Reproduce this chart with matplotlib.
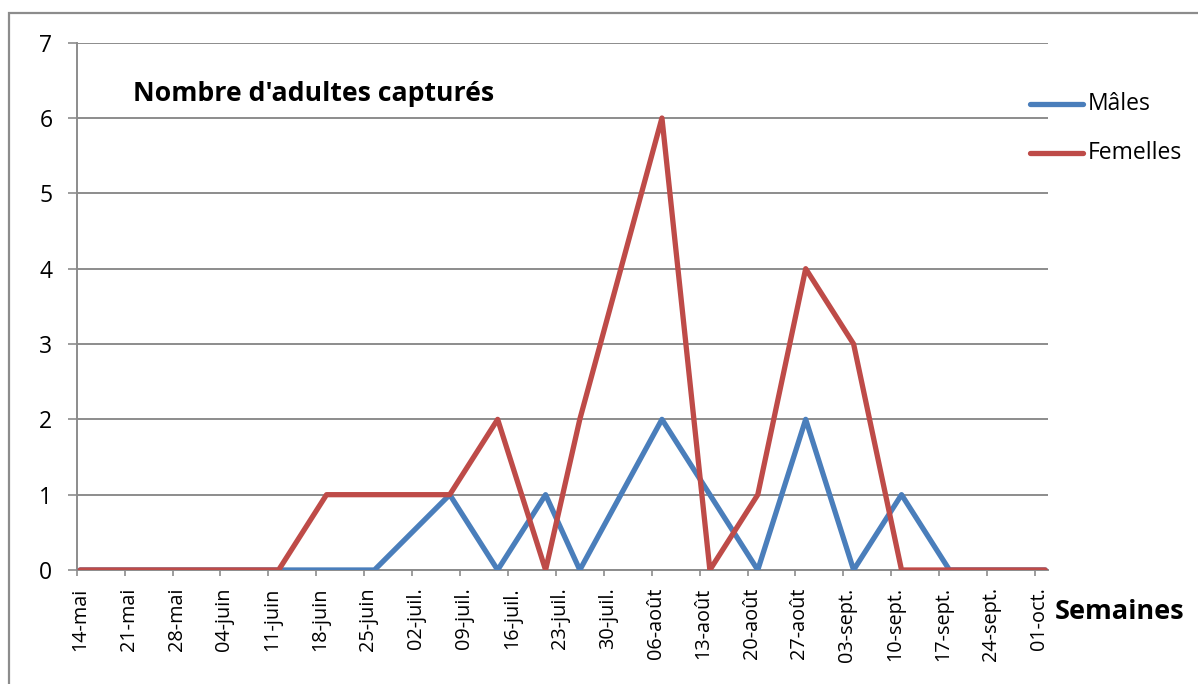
import matplotlib
matplotlib.use("Agg")
import matplotlib.pyplot as plt
import matplotlib.transforms as mtransforms
from matplotlib.lines import Line2D
from matplotlib.patches import Rectangle
import pandas as pd

# ---- data ----
dates = ["2013-05-14 12:00", "2013-05-21 12:00", "2013-05-28 12:00", "2013-06-04 12:00",
         "2013-06-12 12:00", "2013-06-19 12:00", "2013-06-26 12:00", "2013-07-07 12:00",
         "2013-07-14 12:00", "2013-07-21 12:00", "2013-07-26 12:00", "2013-08-07 12:00",
         "2013-08-14 12:00", "2013-08-21 12:00", "2013-08-28 12:00", "2013-09-04 12:00",
         "2013-09-11 12:00", "2013-09-18 12:00", "2013-09-25 12:00", "2013-10-02 12:00"]
males   = [0, 0, 0, 0, 0, 0, 0, 1, 0, 1, 0, 2, 1, 0, 2, 0, 1, 0, 0, 0]
females = [0, 0, 0, 0, 0, 1, 1, 1, 2, 0, 2, 6, 0, 1, 4, 3, 0, 0, 0, 0]
series_names = ["Mâles", "Femelles"]

tick_dates = pd.date_range("2013-05-14", "2013-10-01", freq="7D")
tick_labels = ["14-mai", "21-mai", "28-mai", "04-juin", "11-juin", "18-juin",
               "25-juin", "02-juil.", "09-juil.", "16-juil.", "23-juil.",
               "30-juil.", "06-août", "13-août", "20-août", "27-août",
               "03-sept.", "10-sept.", "17-sept.", "24-sept.", "01-oct."]
y_ticks = [0, 1, 2, 3, 4, 5, 6, 7]
title = "Nombre d'adultes capturés"
x_title = "Semaines"

# ---- style ----
plt.rcParams['font.family'] = ['Open Sans', 'DejaVu Sans']
BLUE = "#4A7EBB"
RED = "#BE4B48"
GRID = "#8C8C8C"

W, H = 1198, 684
fig = plt.figure(figsize=(W / 100, H / 100), dpi=100)
fig.patch.set_facecolor("white")

# chart-area border (cropped at right and bottom)
fig.add_artist(Rectangle((8.5 / W, -0.1), 1.2, 1 - 13 / H + 0.1,
                         transform=fig.transFigure, fill=False,
                         edgecolor=GRID, linewidth=1.6))

ax = fig.add_axes([76.7 / W, 1 - 570 / H, (1048 - 76.7) / W, (570 - 42.7) / H])

x = pd.to_datetime(dates)
ax.plot(x, males, color=BLUE, lw=3.8, solid_joinstyle="round",
        solid_capstyle="round", zorder=3, label=series_names[0])
ax.plot(x, females, color=RED, lw=3.8, solid_joinstyle="round",
        solid_capstyle="round", zorder=4, label=series_names[1])

x0 = pd.Timestamp("2013-05-14")
ax.set_xlim(x0, x0 + pd.Timedelta(days=141.9))
ax.set_ylim(0, 7)
ax.set_yticks(y_ticks)
ax.set_yticklabels([str(v) for v in y_ticks])
ax.set_xticks(tick_dates)
ax.set_xticklabels(tick_labels, rotation=90)

ax.grid(axis="y", color=GRID, lw=1.4, zorder=0)
ax.set_axisbelow(True)
for s in ["top", "right"]:
    ax.spines[s].set_visible(False)
for s in ["left", "bottom"]:
    ax.spines[s].set_color(GRID)
    ax.spines[s].set_linewidth(1.4)

ax.tick_params(axis="y", length=6.5, width=1.2, color=GRID, pad=11,
               labelsize=16.5)
ax.tick_params(axis="x", length=4.5, width=1.2, color=GRID, pad=8,
               labelsize=14.3)
offset = mtransforms.ScaledTranslation(4 / 100, 0, fig.dpi_scale_trans)
for lbl in ax.get_xticklabels():
    lbl.set_transform(lbl.get_transform() + offset)

# title
fig.text(133 / W, 1 - 94 / H, title, fontsize=19.2, fontweight="bold",
         ha="left", va="center")
# x-axis title
fig.text(1055 / W, 1 - 612 / H, x_title, fontsize=19.5, fontweight="bold",
         ha="left", va="center")

# legend (manual)
for i, (name, col) in enumerate(zip(series_names, [BLUE, RED])):
    yy = 1 - (104.3 + i * 48.5) / H
    fig.add_artist(Line2D([1030 / W, 1083 / W], [yy, yy], color=col, lw=3.8,
                          solid_capstyle="round", transform=fig.transFigure))
    fig.text(1088 / W, yy, name, fontsize=16.5, ha="left", va="center")

fig.savefig("out.png", dpi=100)
